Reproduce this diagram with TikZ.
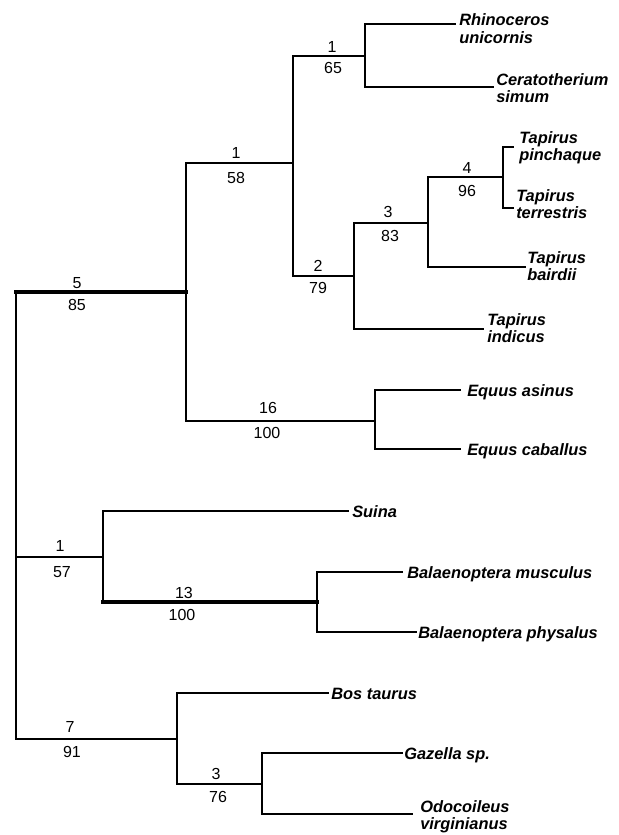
\documentclass[tikz,border=0pt]{standalone}
\usepackage{fontspec}
\newfontfamily\labfont{Liberation Sans}
\newfontfamily\numfont{Liberation Sans}
\begin{document}
\begin{tikzpicture}[x=0.75pt,y=-0.75pt,
  thin/.style={line width=1.6pt, line cap=rect},
  med/.style={line width=2.2pt, line cap=rect},
  thick/.style={line width=3.0pt, line cap=rect},
  tax/.style={anchor=base west, inner sep=0pt, font=\labfont\bfseries\itshape\fontsize{12.3}{13.5}\selectfont},
  num/.style={inner sep=0pt, font=\numfont\fontsize{12}{13}\selectfont}]
\useasboundingbox (0,0) rectangle (618,835);
% internal nodes (branch points)
\coordinate (R) at (16,515);
\coordinate (A) at (186,292);
\coordinate (B) at (293,163);
\coordinate (C) at (365,56);
\coordinate (D) at (354,276);
\coordinate (E) at (428,223);
\coordinate (F) at (503,177);
\coordinate (G) at (375,421);
\coordinate (H) at (103,557);
\coordinate (I) at (317,602);
\coordinate (J) at (177,739);
\coordinate (K) at (262,784);
% leaf ends
\coordinate (rhE) at (455,24);
\coordinate (ceE) at (493,87);
\coordinate (tpE) at (513,147);
\coordinate (ttE) at (513,208);
\coordinate (tbE) at (525,267);
\coordinate (tiE) at (483,329);
\coordinate (eaE) at (460,390);
\coordinate (ecE) at (460,449);
\coordinate (suE) at (348,511);
\coordinate (bmE) at (402,572);
\coordinate (bpE) at (416,632);
\coordinate (btE) at (328,693);
\coordinate (gzE) at (402,753);
\coordinate (odE) at (412,814);
% taxon labels
\node[tax] (rh1) at (459,25) {Rhinoceros};
\node[tax] (rh2) at (459,43) {unicornis};
\node[tax] (ce1) at (496,85) {Ceratotherium};
\node[tax] (ce2) at (496,102) {simum};
\node[tax] (tp1) at (519,143) {Tapirus};
\node[tax] (tp2) at (519,160) {pinchaque};
\node[tax] (tt1) at (516,201) {Tapirus};
\node[tax] (tt2) at (516,218) {terrestris};
\node[tax] (tb1) at (527,263) {Tapirus};
\node[tax] (tb2) at (527,280) {bairdii};
\node[tax] (ti1) at (487,325) {Tapirus};
\node[tax] (ti2) at (487,342) {indicus};
\node[tax] (ea) at (467,396) {Equus asinus};
\node[tax] (ec) at (467,455) {Equus caballus};
\node[tax] (su) at (352,517) {Suina};
\node[tax] (bm) at (407,578) {Balaenoptera musculus};
\node[tax] (bp) at (418,638) {Balaenoptera physalus};
\node[tax] (bt) at (331,699) {Bos taurus};
\node[tax] (gz) at (404,759) {Gazella sp.};
\node[tax] (od1) at (420,812) {Odocoileus};
\node[tax] (od2) at (420,829) {virginianus};
% branch labels
\node[num] (n5) at (77,283) {5};   \node[num] (n85) at (77,305) {85};
\node[num] (n1a) at (236,153) {1}; \node[num] (n58) at (236,178) {58};
\node[num] (n1b) at (332,47) {1};  \node[num] (n65) at (333,68) {65};
\node[num] (n2) at (318,266) {2};  \node[num] (n79) at (318,288) {79};
\node[num] (n3a) at (388,212) {3}; \node[num] (n83) at (390,236) {83};
\node[num] (n4) at (467,168) {4};  \node[num] (n96) at (467,191) {96};
\node[num] (n16) at (268,408) {16}; \node[num] (n100a) at (267,433) {100};
\node[num] (n1c) at (60,546) {1};  \node[num] (n57) at (62,572) {57};
\node[num] (n13) at (184,593) {13}; \node[num] (n100b) at (182,615) {100};
\node[num] (n7) at (70,727) {7};   \node[num] (n91) at (72,752) {91};
\node[num] (n3b) at (216,774) {3}; \node[num] (n76) at (218,797) {76};
% root
\draw[thin] (R |- A) -- (R |- J);
\draw[thick] (R |- A) -- (A);
\draw[med] (R |- H) -- (H);
\draw[med] (R |- J) -- (J);
% A
\draw[thin] (A |- B) -- (A |- G);
\draw[thin] (A |- B) -- (B);
\draw[med] (A |- G) -- (G);
% B
\draw[thin] (B |- C) -- (B |- D);
\draw[med] (B |- C) -- (C);
\draw[thin] (B |- D) -- (D);
% C
\draw[med] (C |- rhE) -- (C |- ceE);
\draw[med] (C |- rhE) -- (rhE);
\draw[med] (C |- ceE) -- (ceE);
% D
\draw[thin] (D |- E) -- (D |- tiE);
\draw[med] (D |- E) -- (E);
\draw[med] (D |- tiE) -- (tiE);
% E
\draw[thin] (E |- F) -- (E |- tbE);
\draw[med] (E |- F) -- (F);
\draw[thin] (E |- tbE) -- (tbE);
% F
\draw[med] (F |- tpE) -- (F |- ttE);
\draw[med] (F |- tpE) -- (tpE);
\draw[med] (F |- ttE) -- (ttE);
% G
\draw[med] (G |- eaE) -- (G |- ecE);
\draw[med] (G |- eaE) -- (eaE);
\draw[med] (G |- ecE) -- (ecE);
% H
\draw[thin] (H |- suE) -- (H |- I);
\draw[thin] (H |- suE) -- (suE);
\draw[thick] (H |- I) -- (I);
% I
\draw[thin] (I |- bmE) -- (I |- bpE);
\draw[med] (I |- bmE) -- (bmE);
\draw[med] (I |- bpE) -- (bpE);
% J
\draw[thin] (J |- btE) -- (J |- K);
\draw[thin] (J |- btE) -- (btE);
\draw[med] (J |- K) -- (K);
% K
\draw[med] (K |- gzE) -- (K |- odE);
\draw[med] (K |- gzE) -- (gzE);
\draw[med] (K |- odE) -- (odE);
\end{tikzpicture}
\end{document}
